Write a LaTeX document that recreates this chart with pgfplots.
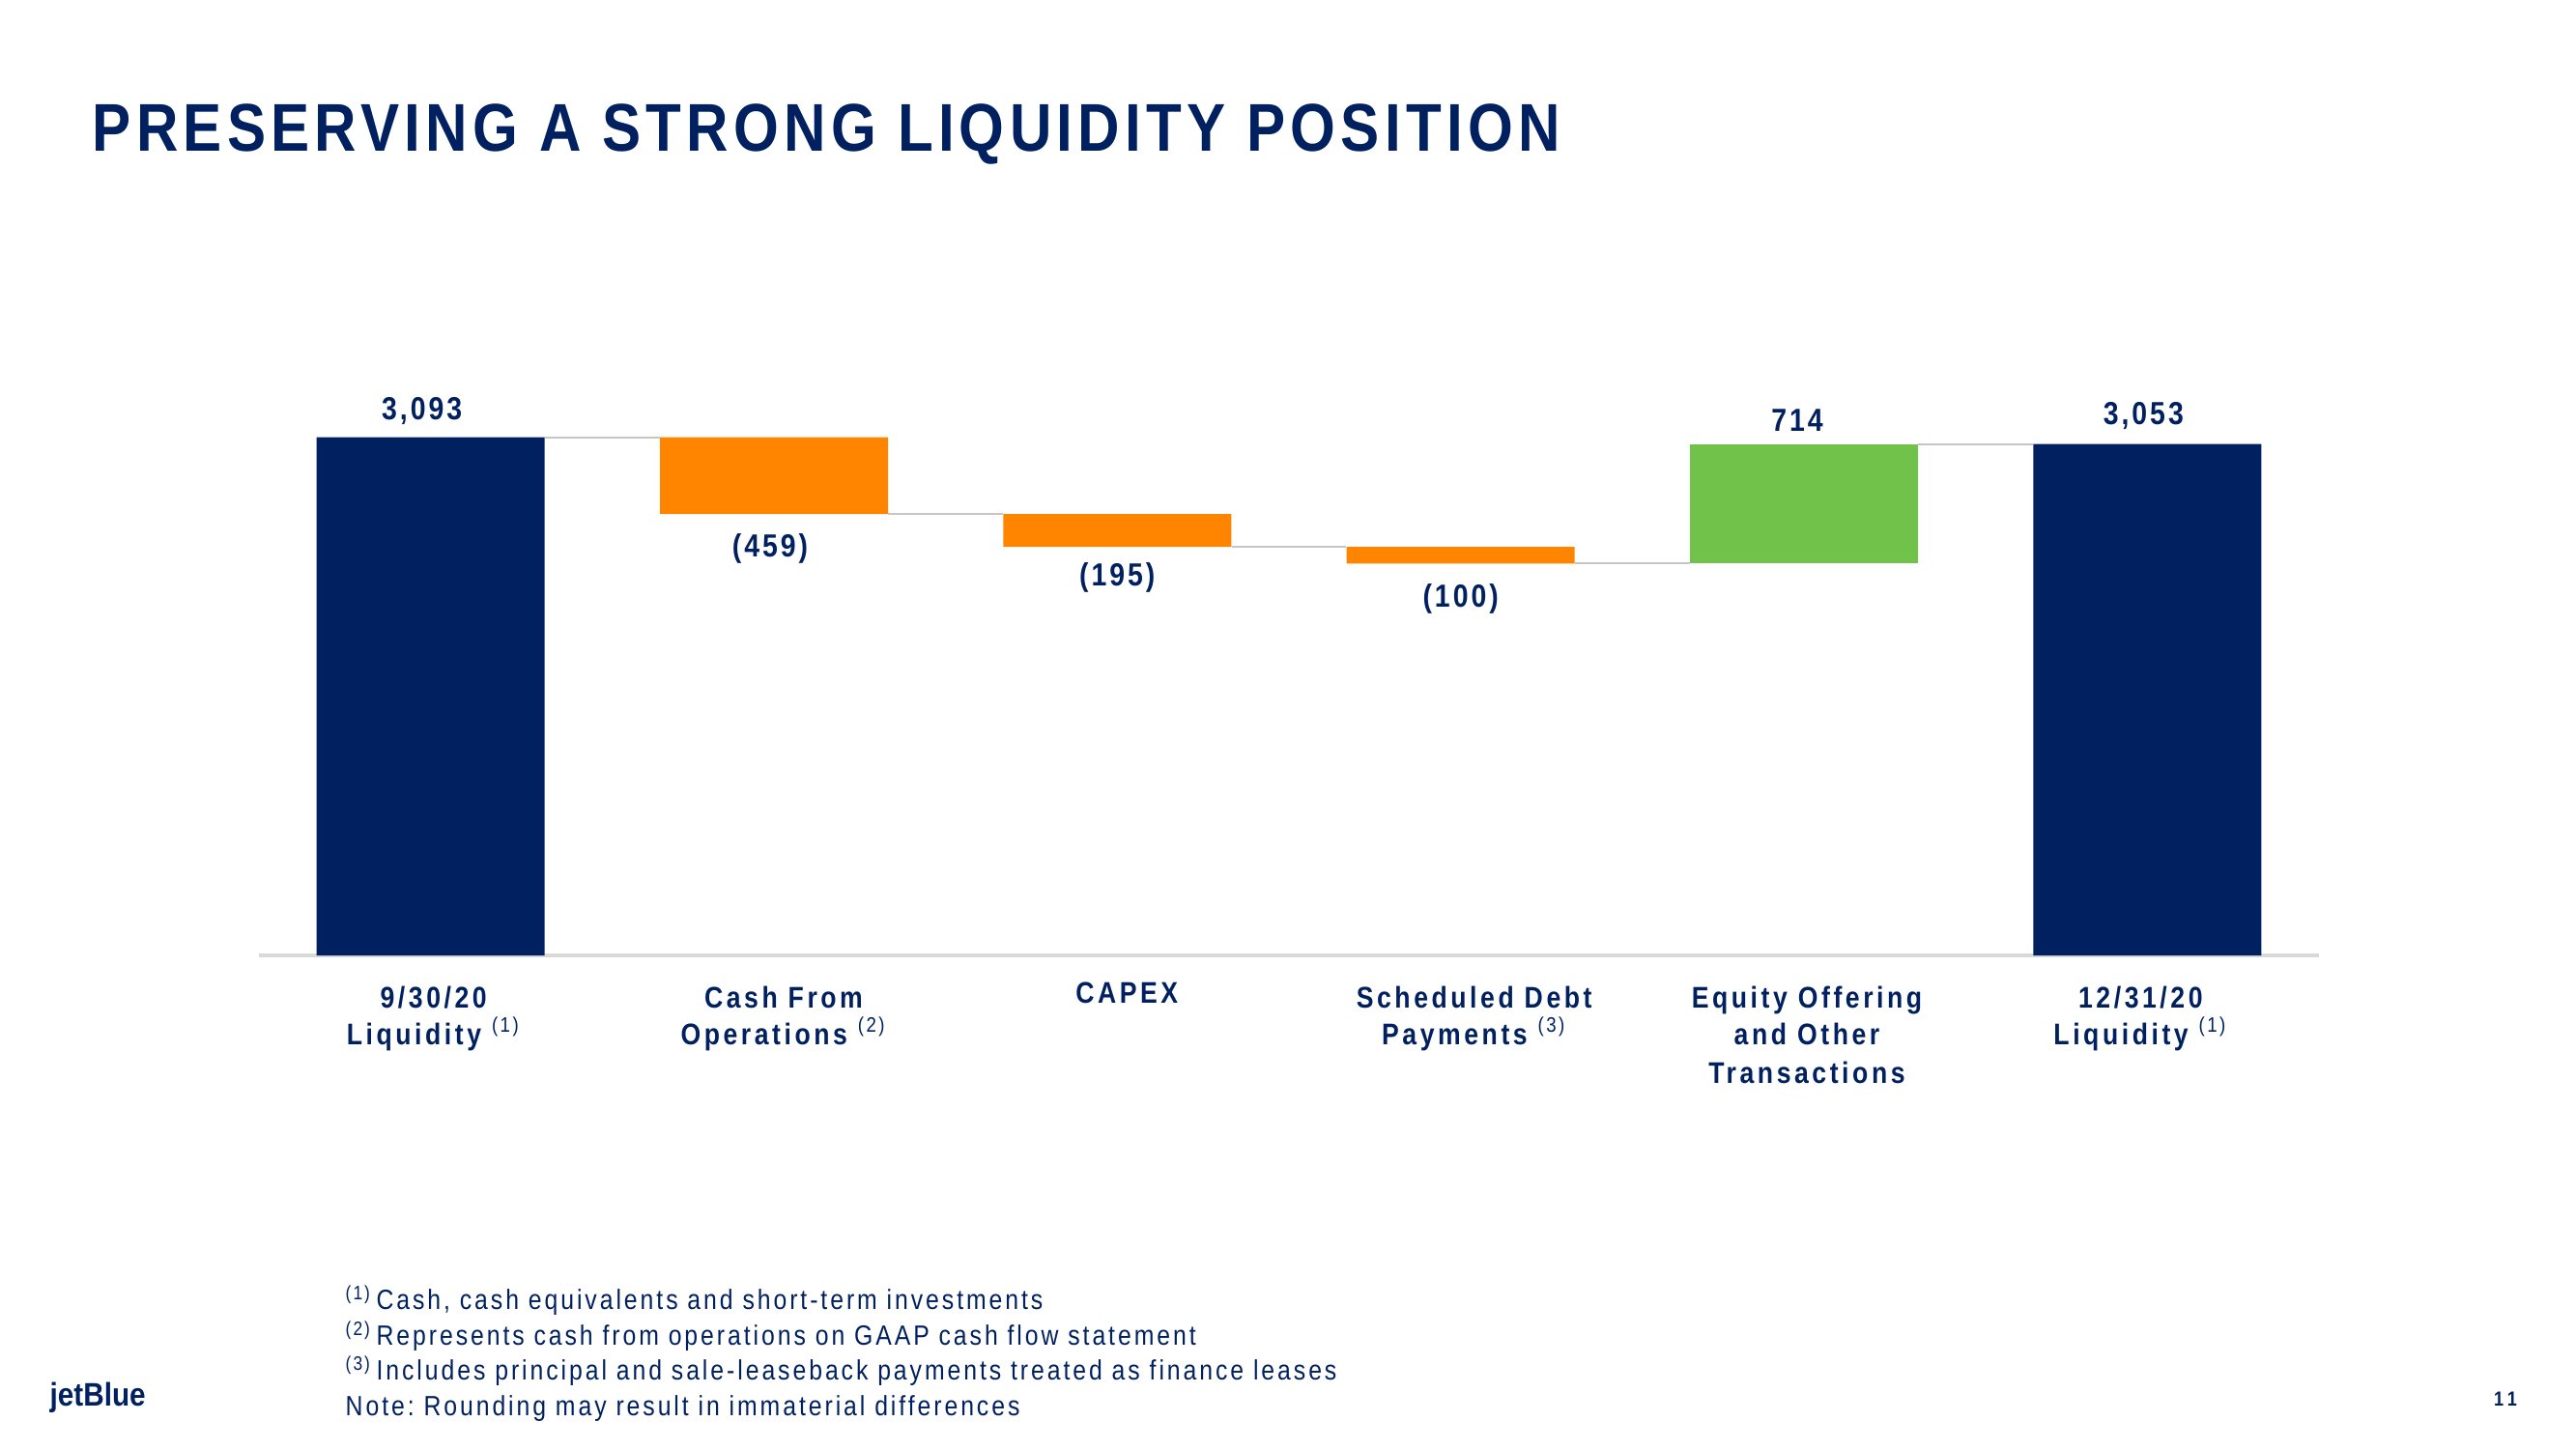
\documentclass[border=0pt]{standalone}
\usepackage{fontspec}
\setmainfont{Liberation Sans}[FakeStretch=0.86,LetterSpace=6.5]
\newfontfamily\titlefont{Liberation Sans}[FakeStretch=0.86,LetterSpace=7.5]
\newfontfamily\valfont{Liberation Sans}[FakeStretch=0.86,LetterSpace=9]
\newfontfamily\labfont{Liberation Sans}[FakeStretch=0.86,LetterSpace=11.5]
\newfontfamily\fnfont{Liberation Sans}[FakeStretch=0.86,LetterSpace=10.2]
\newfontfamily\logofont{Liberation Sans}[FakeStretch=0.88]
\usepackage{pgfplots}
\usepackage{pgfplotstable}
\pgfplotsset{compat=1.18}
\frenchspacing

\definecolor{jbnavy}{HTML}{002060}
\definecolor{jborange}{HTML}{FF8400}
\definecolor{jbgreen}{HTML}{70C24A}
\definecolor{conn}{HTML}{C6C6C6}
\definecolor{baseln}{HTML}{D9D9D9}

\tikzset{
  vlab/.style={text=jbnavy, inner sep=0, anchor=base, font=\valfont\fontsize{9.4}{11}\selectfont\bfseries},
  clab/.style={text=jbnavy, inner sep=0, anchor=base, font=\labfont\fontsize{8.8}{11}\selectfont\bfseries},
  fnote/.style={anchor=base west, inner sep=0, text=jbnavy, font=\fnfont\fontsize{8.2}{10}\selectfont},
  connl/.style={conn, line width=0.02cm},
}

% waterfall: invisible base + visible step
\pgfplotstableread{
x base navy orange green
0 0    3093 0   0
1 2634 0    459 0
2 2439 0    195 0
3 2339 0    100 0
4 2339 0    0   714
5 0    3053 0   0
}\flowdata

\begin{document}
\begin{tikzpicture}
\useasboundingbox (0,0) rectangle (26.66cm,15cm);

\node[anchor=base west, text=jbnavy, inner sep=0,
      font=\titlefont\fontsize{19.9}{24}\selectfont\bfseries] at (0.95cm,13.43cm)
  {PRESERVING A STRONG LIQUIDITY POSITION};

\begin{axis}[
  at={(2.68cm,5.11cm)}, anchor=south west,
  scale only axis, width=21.32cm, height=6.07cm,
  xmin=-0.5, xmax=5.5, ymin=0, ymax=3500,
  hide axis, clip=false,
  ybar stacked, bar width=2.36cm,
]
\addplot[draw=none, fill=none] table[x=x,y=base]{\flowdata};
\addplot[draw=none, fill=jbnavy] table[x=x,y=navy]{\flowdata};
\addplot[draw=none, fill=jborange] table[x=x,y=orange]{\flowdata};
\addplot[draw=none, fill=jbgreen] table[x=x,y=green]{\flowdata};

\draw[baseln, line width=0.035cm] (axis cs:-0.5,0) -- (axis cs:5.5,0);

% connectors
\draw[connl] (axis cs:0.333,3093) -- (axis cs:0.667,3093);
\draw[connl] (axis cs:1.333,2634) -- (axis cs:1.667,2634);
\draw[connl] (axis cs:2.333,2439) -- (axis cs:2.667,2439);
\draw[connl] (axis cs:3.333,2339) -- (axis cs:3.667,2339);
\draw[connl] (axis cs:4.333,3053) -- (axis cs:4.667,3053);

% value labels
\node[vlab, xshift=-0.09cm, yshift=0.18cm]  at (axis cs:0,3093) {3,093};
\node[vlab, xshift=-0.04cm, yshift=-0.44cm] at (axis cs:1,2634) {(459)};
\node[vlab, yshift=-0.40cm] at (axis cs:2,2439) {(195)};
\node[vlab, yshift=-0.45cm] at (axis cs:3,2339) {(100)};
\node[vlab, xshift=-0.07cm, yshift=0.13cm]  at (axis cs:4,3053) {714};
\node[vlab, xshift=-0.04cm, yshift=0.20cm]  at (axis cs:5,3053) {3,053};

% category labels
\node[clab, xshift=0.03cm, yshift=-0.54cm] at (axis cs:0,0) {9/30/20};
\node[clab, xshift=0.03cm, yshift=-0.93cm] at (axis cs:0,0) {Liquidity \textsuperscript{\mdseries(1)}};
\node[clab, xshift=0.10cm, yshift=-0.54cm] at (axis cs:1,0) {Cash From};
\node[clab, xshift=0.10cm, yshift=-0.93cm] at (axis cs:1,0) {Operations \textsuperscript{\mdseries(2)}};
\node[clab, xshift=0.10cm, yshift=-0.50cm] at (axis cs:2,0) {CAPEX};
\node[clab, xshift=0.14cm, yshift=-0.54cm] at (axis cs:3,0) {Scheduled Debt};
\node[clab, xshift=0.14cm, yshift=-0.93cm] at (axis cs:3,0) {Payments \textsuperscript{\mdseries(3)}};
\node[clab, xshift=0.03cm, yshift=-0.54cm] at (axis cs:4,0) {Equity Offering};
\node[clab, xshift=0.03cm, yshift=-0.93cm] at (axis cs:4,0) {and Other};
\node[clab, xshift=0.03cm, yshift=-1.32cm] at (axis cs:4,0) {Transactions};
\node[clab, xshift=-0.07cm, yshift=-0.54cm] at (axis cs:5,0) {12/31/20};
\node[clab, xshift=-0.07cm, yshift=-0.93cm] at (axis cs:5,0) {Liquidity \textsuperscript{\mdseries(1)}};
\end{axis}

% footnotes
\node[fnote] at (3.57cm,1.45cm) {\textsuperscript{(1)}\,Cash, cash equivalents and short-term investments};
\node[fnote] at (3.57cm,1.08cm) {\textsuperscript{(2)}\,Represents cash from operations on GAAP cash flow statement};
\node[fnote] at (3.57cm,0.72cm) {\textsuperscript{(3)}\,Includes principal and sale-leaseback payments treated as finance leases};
\node[fnote] at (3.57cm,0.35cm) {Note: Rounding may result in immaterial differences};

\node[anchor=base west, inner sep=0, text=jbnavy, font=\logofont\fontsize{9.6}{12}\selectfont\bfseries] at (0.51cm,0.45cm) {jetBlue};
\node[anchor=base, inner sep=0, text=jbnavy, font=\fontsize{6}{7}\selectfont\bfseries] at (25.93cm,0.45cm) {1\,1};
\end{tikzpicture}
\end{document}
